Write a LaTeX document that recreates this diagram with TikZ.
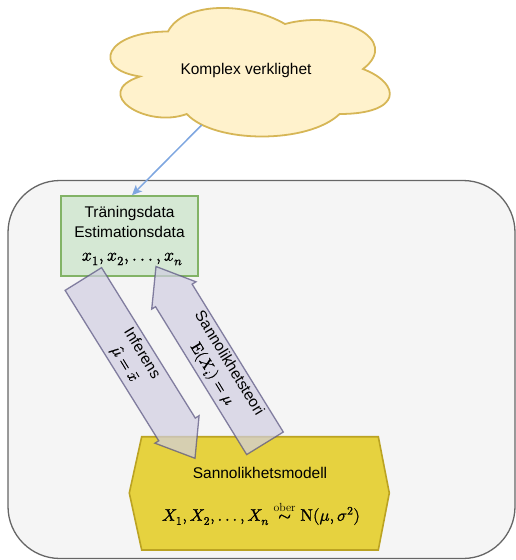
\documentclass[tikz,border=0pt]{standalone}
\usepackage{amsmath}
\usepackage{fontspec}
\usepackage{unicode-math}
\setmainfont{Liberation Sans}
\setmathfont{Latin Modern Math}[FakeBold=1.2]
\newfontfamily\lmr{Latin Modern Roman}
\newcommand{\dotsthree}{\mathinner{\mathpunct{.}\mathpunct{.}\mathpunct{.}}}
\usetikzlibrary{calc,arrows.meta}
\definecolor{bgfill}{HTML}{F5F5F5}
\definecolor{bgdraw}{HTML}{666666}
\definecolor{cloudfill}{HTML}{FFF2CC}
\definecolor{clouddraw}{HTML}{D6B656}
\definecolor{greenfill}{HTML}{D5E8D4}
\definecolor{greendraw}{HTML}{82B366}
\definecolor{hexfill}{HTML}{E6D23F}
\definecolor{hexdraw}{HTML}{BBA322}
\definecolor{arrfill}{HTML}{D0CEE2}
\definecolor{arrdraw}{HTML}{56517E}
\definecolor{blueline}{HTML}{7EA6E0}
\tikzset{
  txt/.style={inner sep=0pt, font=\fontsize{15.5}{18.5}\selectfont, text=black},
  mathtxt/.style={inner sep=0pt, font=\fontsize{18}{20}\selectfont, text=black},
  arrlabel/.style={inner sep=0pt, align=center, rotate=-58.5, font=\fontsize{15.5}{20}\selectfont, text=black},
  flexarr/.style={fill=arrfill, draw=arrdraw, line width=1.3pt, line join=miter, fill opacity=0.7, draw opacity=0.7},
}
\newcommand{\flexarrow}[2]{%
  \path coordinate (h#2) at ($(#2)!34pt!(#1)$);
  \draw[flexarr]
    ($(#1)!21.5pt!90:(#2)$) --
    ($(h#2)!21.5pt!-90:(#1)$) --
    ($(h#2)!26pt!-90:(#1)$) --
    (#2) --
    ($(h#2)!26pt!90:(#1)$) --
    ($(h#2)!21.5pt!90:(#1)$) --
    ($(#1)!21.5pt!-90:(#2)$) -- cycle;}
\begin{document}
\begin{tikzpicture}[x=1pt,y=-1pt]
\useasboundingbox (0,0) rectangle (516,560);
% background container
\draw[fill=bgfill, draw=bgdraw, line width=1.3pt, rounded corners=52pt] (8,180.5) rectangle (515,558.5);
% cloud
\draw[fill=cloudfill, draw=clouddraw, line width=1.8pt]
  (168,31.5) .. controls (105.6,31.5) and (90,69) .. (139.92,76.5)
  .. controls (90,93) and (146.16,129) .. (186.72,114)
  .. controls (214.8,144) and (308.4,144) .. (339.6,114)
  .. controls (402,114) and (402,84) .. (363,69)
  .. controls (402,39) and (339.6,9) .. (285,24)
  .. controls (246,1.5) and (183.6,1.5) .. (168,31.5) -- cycle;
\node[txt] (cloud) at (246,70) {Komplex verklighet};
\coordinate (cloudexit) at (201.7,125);
% training box
\node[draw=greendraw, fill=greenfill, line width=1.6pt, minimum width=137pt, minimum height=80pt, inner sep=0pt] (train) at (129.5,236) {};
\node[txt] (t1) at (129.5,213.5) {Träningsdata};
\node[txt] (t2) at (129.5,232) {Estimationsdata};
\node[mathtxt] (t3) at (132,259) {$x_1, x_2, \dotsthree, x_n$};
% blue connector
\draw[blueline, line width=1.5pt, -{Stealth[length=10pt,width=9pt,inset=2.5pt]}] (cloudexit) -- ([xshift=2.5pt]train.north);
% hexagon
\draw[fill=hexfill, draw=hexdraw, line width=1.6pt, line join=miter]
  (141.7,436.7) -- (378.3,436.7) -- (389.3,493) -- (378.3,550) -- (141.7,550) -- (129.3,493) -- cycle;
\node[txt] (h1) at (260,473) {Sannolikhetsmodell};
\node[mathtxt, font=\fontsize{16.8}{20}\selectfont] (h2) at (261,513) {$X_1, X_2, \dotsthree, X_n \stackrel{\text{\lmr ober}}{\sim} \symup{N}(\mu,\sigma^2)$};
% flex arrows
\coordinate (infTail) at (83.35,279);
\coordinate (infTip) at (195,458.3);
\coordinate (sanTail) at (265,443.3);
\coordinate (sanTip) at (156,266.5);
\flexarrow{infTail}{infTip}
\flexarrow{sanTail}{sanTip}
\node[arrlabel] (infl) at (133,359) {Inferens\\$\hat{\mu} = \bar{x}$};
\node[arrlabel] (sanl) at (220,369) {Sannolikhetsteori\\$\symup{E}(X_i) = \mu$};
\end{tikzpicture}
\end{document}
